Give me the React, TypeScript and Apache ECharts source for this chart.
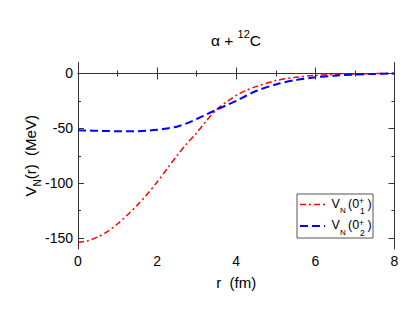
import React, { useEffect, useRef } from "react";
import * as echarts from "echarts";

const rValues = [0, 0.25, 0.5, 0.75, 1, 1.25, 1.5, 1.75, 2, 2.25, 2.5, 2.75, 3, 3.25, 3.5, 3.75, 4, 4.25, 4.5, 5, 5.5, 6, 6.5, 7, 7.5, 8];
const v01 = [-154, -152.5, -149, -144, -137, -129, -120, -110, -99, -87, -75, -64, -54, -43, -33, -26, -20, -15.5, -12, -6.5, -3.5, -1.8, -0.9, -0.4, -0.15, 0];
const v02 = [-51.7, -52, -52.2, -52.5, -52.6, -52.7, -52.6, -52.1, -51.3, -50.1, -48.5, -45.5, -41.5, -37.3, -33, -29, -25, -20.3, -16, -10, -6, -3.5, -2, -1, -0.4, 0];
const yMajor = [-150, -100, -50, 0];
const yMinor = [-125, -75, -25];

const FONT = "'Liberation Sans', Arial, Helvetica, sans-serif";

export default function App() {
  const ref = useRef<HTMLDivElement>(null);
  useEffect(() => {
    document.body.style.margin = "0";
    const chart = echarts.init(ref.current!, null, { renderer: "svg" });
    const lineColor = "#333";
    const baseX = {
      type: "value",
      min: 0,
      max: 8,
      interval: 2,
      splitLine: { show: false },
      axisLine: { show: true, lineStyle: { color: lineColor, width: 1 } },
      axisTick: { show: true, inside: true, length: 6, lineStyle: { color: lineColor } },
      minorTick: { show: true, splitNumber: 2, length: 3, lineStyle: { color: lineColor } },
    };
    const baseY = (pos: string, major: boolean, labels: boolean) => ({
      type: "value",
      min: -160,
      max: 10,
      position: pos,
      splitLine: { show: false },
      axisLine: { show: major, onZero: false, lineStyle: { color: lineColor, width: 1 } },
      axisTick: {
        show: true,
        inside: true,
        length: major ? 6 : 3,
        customValues: major ? yMajor : yMinor,
        lineStyle: { color: lineColor },
      },
      axisLabel: {
        show: labels,
        customValues: yMajor,
        fontSize: 14,
        fontFamily: FONT,
        color: "#000",
        margin: 5,
      },
    });
    const left = baseY("left", true, true) as any;
    left.name = "{a|V}{s|N}{a|(r)  (MeV)}";
    left.nameLocation = "middle";
    left.nameGap = 36;
    left.nameMoveOverlap = false;
    left.nameTextStyle = {
      rich: {
        a: { fontSize: 15, fontFamily: FONT, color: "#000", lineHeight: 24 },
        s: { fontSize: 10, fontFamily: FONT, color: "#000", lineHeight: 12, verticalAlign: "bottom" },
      },
    };
    const legX = 297, legY = 194;
    const t = (text: string, x: number, y: number, size: number) => ({
      type: "text",
      style: { text, x, y, fontSize: size, fontFamily: FONT, fill: "#000", verticalAlign: "middle" },
    });
    const row = (dy: number, idx: string) => [
      t("V", 331.5, 203.5 + dy, 12.5),
      t("N", 340, 210.5 + dy, 8),
      t("(0", 348, 203.5 + dy, 12.5),
      t("+", 359, 201 + dy, 8.5),
      t(idx, 360, 211 + dy, 8.5),
      t(")", 367.5, 203.5 + dy, 12.5),
    ];
    chart.setOption({
      animation: false,
      grid: { left: 78, right: 20.5, top: 62.5, bottom: 72, containLabel: false },
      xAxis: [
        {
          ...baseX,
          position: "bottom",
          axisLabel: { fontSize: 14, fontFamily: FONT, color: "#000", margin: 5 },
          name: "r  (fm)",
          nameLocation: "middle",
          nameGap: 26,
          nameMoveOverlap: false,
          nameTextStyle: { fontSize: 15, fontFamily: FONT, color: "#000" },
        },
        { ...baseX, position: "top", axisLabel: { show: false } },
      ],
      yAxis: [left, baseY("left", false, false), baseY("right", true, false), baseY("right", false, false)],
      graphic: [
        {
          type: "text",
          style: {
            text: "{a|α + }{s|12}{a|C}",
            x: 236,
            y: 40,
            align: "center",
            verticalAlign: "middle",
            rich: {
              a: { fontSize: 15.5, fontFamily: FONT, fill: "#000", lineHeight: 24 },
              s: { fontSize: 11, fontFamily: FONT, fill: "#000", lineHeight: 12, verticalAlign: "top" },
            },
          },
        },
        {
          type: "rect",
          shape: { x: legX, y: legY, width: 76, height: 44 },
          style: { fill: "#fff", stroke: "#555", lineWidth: 1 },
        },
        {
          type: "line",
          shape: { x1: 300, y1: 204.5, x2: 325, y2: 204.5 },
          style: { stroke: "#ff0000", lineWidth: 1.5, lineDash: [6, 3, 2, 3] },
        },
        {
          type: "line",
          shape: { x1: 300, y1: 226, x2: 325, y2: 226 },
          style: { stroke: "#0000ff", lineWidth: 2, lineDash: [8, 4] },
        },
        ...row(0, "1"),
        ...row(21.5, "2"),
      ],
      series: [
        {
          type: "line",
          name: "V_N (0_1^+)",
          data: rValues.map((r, i) => [r, v01[i]]),
          smooth: 0.3,
          showSymbol: false,
          symbol: "none",
          lineStyle: { color: "#ff0000", width: 1.5, type: [6, 3, 2, 3] },
          z: 2,
        },
        {
          type: "line",
          name: "V_N (0_2^+)",
          data: rValues.map((r, i) => [r, v02[i]]),
          smooth: 0.3,
          showSymbol: false,
          symbol: "none",
          lineStyle: { color: "#0000ff", width: 2, type: [8, 4] },
          z: 2,
        },
      ],
    });
    return () => chart.dispose();
  }, []);
  return <div ref={ref} style={{ width: 415, height: 321 }} />;
}
